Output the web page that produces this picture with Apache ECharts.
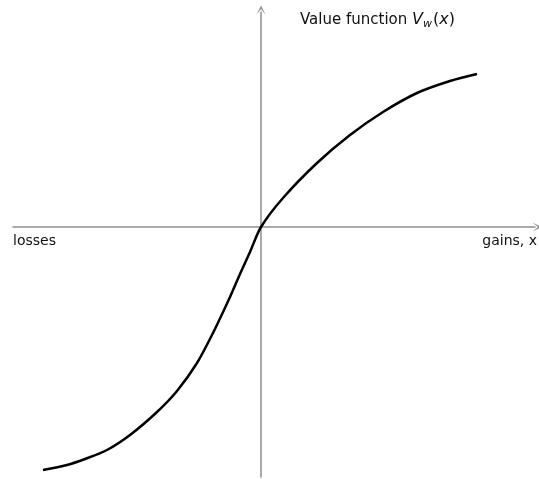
<!DOCTYPE html>
<html>
<head>
<meta charset="utf-8">
<script src="https://cdn.jsdelivr.net/npm/echarts@6/dist/echarts.min.js"></script>
<style>
  html, body { margin: 0; padding: 0; background: #fff; }
  #chart { width: 539px; height: 479px; }
</style>
</head>
<body>
<div id="chart"></div>
<script>
// value function (arbitrary units)
const lossX = [-21.8, -19.4, -17.6, -15.4, -13.1, -10.4, -8.4, -6.4, -4.8, -3.1, -2.1, -1.1, 0]
const lossY = [-24.3, -23.8, -23.2, -22.3, -20.8, -18.5, -16.4, -13.6, -10.6, -7.0, -4.7, -2.5, 0]
const gainX = [2.2, 5.6, 8.9, 12.2, 15.6, 18.9, 21.6]
const gainY = [2.9, 6.4, 9.2, 11.5, 13.4, 14.6, 15.3]
const axisRange = { xMin: -24.8, xMax: 27.4, yMin: -25, yMax: 21.5 }

const curve = lossX.map((x, i) => [x, lossY[i]])
  .concat(gainX.map((x, i) => [x, gainY[i]]))

const chart = echarts.init(document.getElementById('chart'))
const arrow = 'path://M0,10 L5,0 L10,10 L5,4 Z'
const axisStyle = {
  show: true,
  onZero: true,
  symbol: ['none', arrow],
  symbolSize: [9, 10],
  symbolOffset: [0, 2],
  lineStyle: { color: '#8f8f8f', width: 1.5 }
}
const labelFont = '14px "DejaVu Sans"'

chart.setOption({
  animation: false,
  grid: { left: 13, right: 4, top: 12, bottom: 2 },
  xAxis: {
    type: 'value',
    min: axisRange.xMin,
    max: axisRange.xMax,
    axisLine: axisStyle,
    axisTick: { show: false },
    axisLabel: { show: false },
    splitLine: { show: false }
  },
  yAxis: {
    type: 'value',
    min: axisRange.yMin,
    max: axisRange.yMax,
    axisLine: axisStyle,
    axisTick: { show: false },
    axisLabel: { show: false },
    splitLine: { show: false }
  },
  series: [
    {
      type: 'line',
      data: curve,
      smooth: 0.3,
      showSymbol: false,
      lineStyle: { color: '#000', width: 2.5 }
    }
  ],
  graphic: [
    {
      type: 'text',
      left: 13,
      top: 234,
      style: { text: 'losses', font: labelFont, fill: '#111' }
    },
    {
      type: 'text',
      right: 2,
      top: 234,
      style: { text: 'gains, x', font: labelFont, fill: '#111' }
    },
    {
      type: 'text',
      left: 300,
      top: 12,
      style: {
        text: 'Value function {i|V}{s|w}{n|(}{i|x}{n|)}',
        font: '15px "DejaVu Sans"',
        fill: '#111',
        rich: {
          i: { fontSize: 16, fontStyle: 'italic', fontFamily: 'DejaVu Sans', fill: '#111' },
          s: { fontSize: 11, fontStyle: 'italic', fontFamily: 'DejaVu Sans', fill: '#111', padding: [8, 1, 0, 0] },
          n: { fontSize: 16, fontFamily: 'DejaVu Sans', fill: '#111' }
        }
      }
    }
  ]
})
</script>
</body>
</html>
